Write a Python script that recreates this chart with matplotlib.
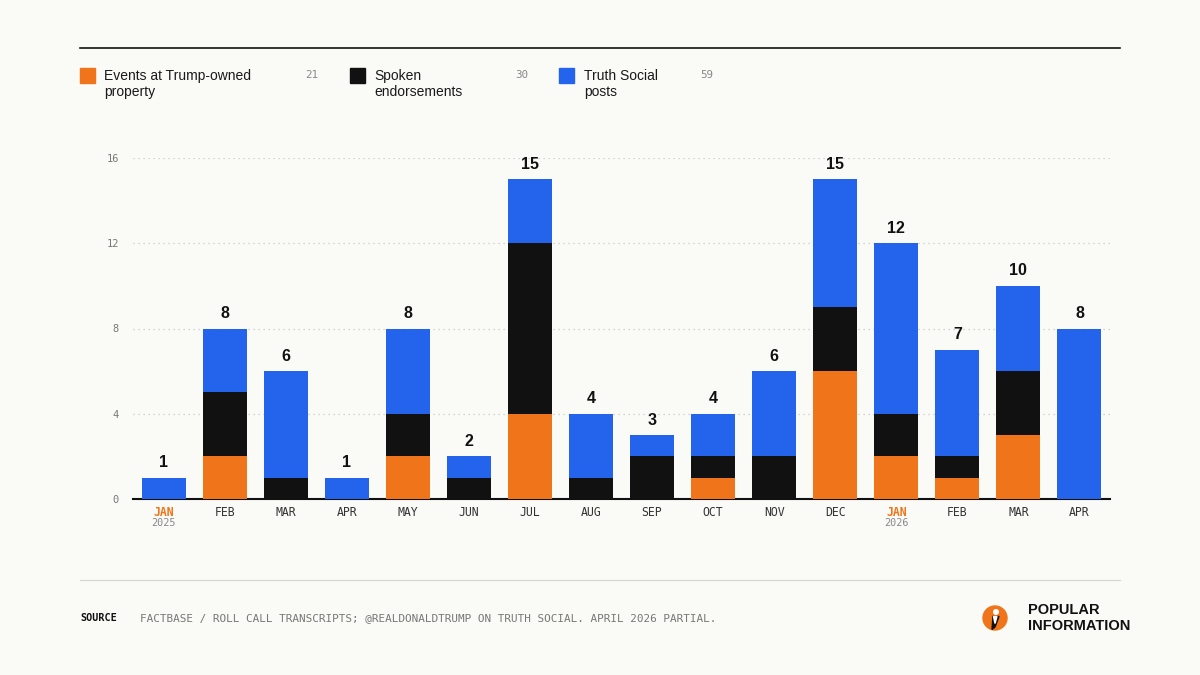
import matplotlib

matplotlib.use("Agg")
import matplotlib.pyplot as plt
from matplotlib.patches import Circle, Rectangle, Polygon
import numpy as np

# data
months = ["JAN", "FEB", "MAR", "APR", "MAY", "JUN", "JUL", "AUG",
          "SEP", "OCT", "NOV", "DEC", "JAN", "FEB", "MAR", "APR"]
year_marks = {0: "2025", 12: "2026"}
events = [0, 2, 0, 0, 2, 0, 4, 0, 0, 1, 0, 6, 2, 1, 3, 0]
spoken = [0, 3, 1, 0, 2, 1, 8, 1, 2, 1, 2, 3, 2, 1, 3, 0]
truth = [1, 3, 5, 1, 4, 1, 3, 3, 1, 2, 4, 6, 8, 5, 4, 8]
series_names = ["Events at Trump-owned\nproperty", "Spoken\nendorsements", "Truth Social\nposts"]
yticks = [0, 4, 8, 12, 16]

BG = "#FAFAF7"
ORANGE = "#F07419"
BLACK = "#111111"
BLUE = "#2463EB"
SANS = ["Liberation Sans", "DejaVu Sans"]
MONO = ["DejaVu Sans Mono"]

W, H = 1200, 675
fig = plt.figure(figsize=(12, 6.75), dpi=100, facecolor=BG)


def fx(px):
    return px / W


def fy(py):
    return 1 - py / H


# top rule and legend
fig.add_artist(plt.Line2D([fx(80), fx(1120)], [fy(48), fy(48)], color=BLACK, lw=1.2))
legend_x = [(80, 104, 318), (350, 374, 528), (559, 584, 713)]
colors = [ORANGE, BLACK, BLUE]
totals = [sum(events), sum(spoken), sum(truth)]
for (sq, tx, nx), col, name, tot in zip(legend_x, colors, series_names, totals):
    fig.add_artist(Rectangle((fx(sq), fy(83)), fx(15), 15 / H, color=col, transform=fig.transFigure))
    fig.text(fx(tx), fy(69), name, ha="left", va="top", fontsize=10, family=SANS,
             color="#1a1a1a", linespacing=1.2)
    fig.text(fx(nx), fy(75), str(tot), ha="right", va="center", fontsize=7.8, family=MONO,
             color="#888888")

# chart
ax = fig.add_axes([fx(133), fy(499), fx(1110) - fx(133), fy(158) - fy(499)])
ax.set_facecolor(BG)
x = np.arange(len(months))
bw = 0.72
ev = np.array(events)
sp = np.array(spoken)
tr = np.array(truth)
ax.bar(x, ev, bw, color=ORANGE, zorder=3)
ax.bar(x, sp, bw, bottom=ev, color=BLACK, zorder=3)
ax.bar(x, tr, bw, bottom=ev + sp, color=BLUE, zorder=3)
tot = ev + sp + tr
for xi, t in zip(x, tot):
    ax.text(xi, t + 0.35, str(t), ha="center", va="bottom", fontsize=11.5, fontweight="bold",
            family=SANS, color=BLACK, clip_on=False)

ax.set_xlim(-0.5, len(months) - 0.5)
ax.set_ylim(0, 16)
ax.set_yticks(yticks)
ax.set_yticklabels([str(v) for v in yticks], family=MONO, fontsize=7.5, color="#777777")
ax.tick_params(axis="y", length=0, pad=10)
for v in yticks[1:]:
    ax.axhline(v, color="#c8c8c8", lw=0.9, ls=(0, (1, 3)), zorder=1)
ax.set_xticks(x)
ax.set_xticklabels(months, family=MONO, fontsize=8.3, color="#333333")
ax.tick_params(axis="x", length=0, pad=5)
for i, lab in enumerate(ax.get_xticklabels()):
    if i in year_marks:
        lab.set_color(ORANGE)
        lab.set_fontweight("bold")
for i, yr in year_marks.items():
    ax.text(i, -0.9, yr, ha="center", va="top", fontsize=7.3, family=MONO, color="#888888",
            clip_on=False)
for side in ["top", "right", "left"]:
    ax.spines[side].set_visible(False)
ax.spines["bottom"].set_color(BLACK)
ax.spines["bottom"].set_linewidth(1.5)

# footer
fig.add_artist(plt.Line2D([fx(80), fx(1120)], [fy(580), fy(580)], color="#d6d6d2", lw=0.9))
fig.text(fx(80), fy(618), "SOURCE", ha="left", va="center", fontsize=7.3, family=MONO,
         fontweight="bold", color=BLACK)
fig.text(fx(140), fy(618),
         "FACTBASE / ROLL CALL TRANSCRIPTS; @REALDONALDTRUMP ON TRUTH SOCIAL. APRIL 2026 PARTIAL.",
         ha="left", va="center", fontsize=7.9, family=MONO, color="#777777")

# logo
logo = fig.add_axes([fx(980), fy(633), fx(30), 30 / H])
logo.set_xlim(0, 30)
logo.set_ylim(0, 30)
logo.set_aspect("equal")
logo.axis("off")
logo.add_patch(Circle((15, 15), 12, color=ORANGE))
logo.add_patch(Circle((16, 21), 2.3, color="white"))
logo.add_patch(Polygon([[13, 16.5], [19, 16.5], [15, 6], [12, 3.5]], color=BLACK))
logo.add_patch(Polygon([[13.5, 16.5], [17, 16.5], [15, 9.5]], color="white"))
fig.text(fx(1028), fy(618), "POPULAR\nINFORMATION", ha="left", va="center", fontsize=10.5,
         fontweight="bold", family=SANS, color=BLACK, linespacing=1.1)

fig.savefig("out.png", dpi=100, facecolor=BG)
